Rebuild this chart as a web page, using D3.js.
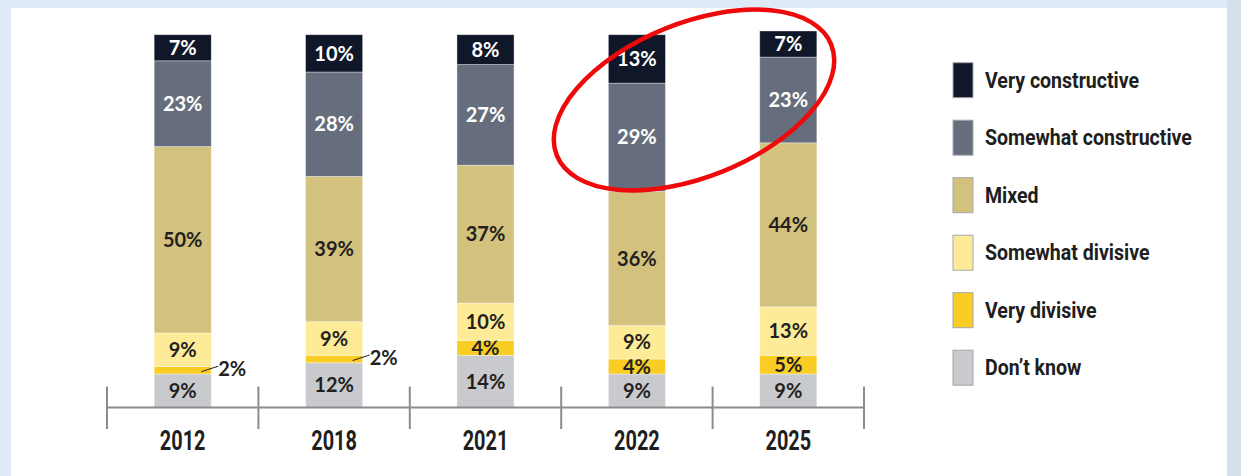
<!DOCTYPE html>
<html>
<head>
<meta charset="utf-8">
<script src="https://cdn.jsdelivr.net/npm/d3@7/dist/d3.min.js"></script>
<style>
  body { margin: 0; background: #e0eaf6; }
  .yr text { font-family: Roboto, "Liberation Sans", sans-serif; font-weight: bold; font-size: 28px; fill: #1e1e1e; }
  .lbl { font-family: Lato, "Open Sans", sans-serif; font-weight: bold; font-size: 20px; }
  .leg { font-family: Roboto, "Liberation Sans", sans-serif; font-weight: bold; font-size: 22.5px; fill: #1e1e1e; }
</style>
</head>
<body>
<div id="chart"></div>
<script>
var years = ["2012", "2018", "2021", "2022", "2025"];
var categories = ["Very constructive", "Somewhat constructive", "Mixed", "Somewhat divisive", "Very divisive", "Don\u2019t know"];
var colors = ["#0f1729", "#666e7d", "#d3c17e", "#fdeb98", "#f9cd24", "#c8cacd"];

// one array per category, in order of years
var veryConstructive     = [7, 10, 8, 13, 7];
var somewhatConstructive = [23, 28, 27, 29, 23];
var mixed                = [50, 39, 37, 36, 44];
var somewhatDivisive     = [9, 9, 10, 9, 13];
var veryDivisive         = [2, 2, 4, 4, 5];
var dontKnow             = [9, 12, 14, 9, 9];

var seriesValues = [veryConstructive, somewhatConstructive, mixed, somewhatDivisive, veryDivisive, dontKnow];

var W = 1241, H = 476;
var svg = d3.select("#chart").append("svg")
    .attr("width", W)
    .attr("height", H);

svg.append("rect").attr("width", W).attr("height", H).attr("fill", "#e0eaf6");
svg.append("rect").attr("x", 1227).attr("width", 14).attr("height", H).attr("fill", "#d6e0ec");
svg.append("rect").attr("x", 11).attr("y", 8).attr("width", 1216).attr("height", H).attr("fill", "#fff");

var axisY = 407.5;
var x = d3.scaleBand()
    .domain(years)
    .range([107, 864])
    .paddingInner(0.623)
    .paddingOuter(0.3115);

var y = d3.scaleLinear()
    .domain([0, 100])
    .range([axisY, 34.7]);

// build table: rows per year, stacked from bottom (Don't know) upward
var table = years.map(function(yr, i) {
  var row = {year: yr};
  categories.forEach(function(c, j) { row[c] = seriesValues[j][i]; });
  return row;
});

var stackOrder = categories.slice().reverse();
var stacked = d3.stack().keys(stackOrder)(table);

var g = svg.append("g");

var layer = g.selectAll(".layer")
  .data(stacked)
  .enter().append("g")
    .attr("class", "layer")
    .attr("fill", function(d) { return colors[categories.indexOf(d.key)]; });

layer.selectAll("rect")
  .data(function(d) { return d; })
  .enter().append("rect")
    .attr("x", function(d) { return x(d.data.year); })
    .attr("y", function(d) { return y(d[1]); })
    .attr("width", x.bandwidth())
    .attr("height", function(d) { return y(d[0]) - y(d[1]); })
    .attr("stroke", "rgba(255,255,255,0.45)")
    .attr("stroke-width", 0.8);

// labels
layer.each(function(s) {
  var ci = categories.indexOf(s.key);
  var dark = ci < 2;
  d3.select(this).selectAll("g.seg")
    .data(s)
    .enter().append("g")
      .attr("class", "seg")
      .each(function(d) {
        var v = d[1] - d[0];
        var cy = (y(d[0]) + y(d[1])) / 2;
        var sel = d3.select(this);
        if (v < 3) {
          var bx = x(d.data.year) + x.bandwidth();
          sel.append("line")
            .attr("x1", bx - 10).attr("y1", cy + 1.5)
            .attr("x2", bx + 7).attr("y2", cy - 4)
            .attr("stroke", "#231f20").attr("stroke-width", 1);
          sel.append("text")
            .attr("class", "lbl")
            .attr("x", bx + 7)
            .attr("y", cy + 6)
            .attr("fill", "#231f20")
            .text(v + "%");
        } else {
          sel.append("text")
            .attr("class", "lbl")
            .attr("x", x(d.data.year) + x.bandwidth() / 2)
            .attr("y", cy)
            .attr("dy", "0.36em")
            .attr("text-anchor", "middle")
            .attr("fill", dark ? "#fff" : "#231f20")
            .text(v + "%");
        }
      });
});

// axis with ticks between bars
var gap = x.step() - x.bandwidth();
var bounds = years.map(function(d) { return x(d) - gap / 2; });
bounds.push(x(years[years.length - 1]) + x.bandwidth() + gap / 2);

g.append("line")
  .attr("x1", bounds[0]).attr("x2", bounds[bounds.length - 1])
  .attr("y1", axisY).attr("y2", axisY)
  .attr("stroke", "#8c8c8c").attr("stroke-width", 2.2);

g.selectAll(".tk")
  .data(bounds)
  .enter().append("line")
    .attr("class", "tk")
    .attr("x1", function(d) { return d; }).attr("x2", function(d) { return d; })
    .attr("y1", axisY - 21).attr("y2", axisY + 21.5)
    .attr("stroke", "#8c8c8c").attr("stroke-width", 2);

var xAxis = g.append("g")
    .attr("class", "yr")
    .attr("transform", "translate(0," + axisY + ")")
    .call(d3.axisBottom(x).tickSize(0).tickPadding(22.6));
xAxis.select(".domain").remove();
xAxis.attr("font-size", null).attr("font-family", null);

// condensed look: squeeze the year labels horizontally
var yrText = xAxis.selectAll("text");
var yrW = yrText.node().getComputedTextLength();
var yrScale = 45.7 / yrW;
yrText.attr("transform", "scale(" + yrScale + ",1)");

// legend
var legend = svg.append("g")
    .attr("transform", "translate(953,62.7)");

var item = legend.selectAll(".item")
  .data(categories)
  .enter().append("g")
    .attr("class", "item")
    .attr("transform", function(d, i) { return "translate(0," + (i * 57.5) + ")"; });

item.append("rect")
  .attr("width", 20)
  .attr("height", 35)
  .attr("fill", function(d, i) { return colors[i]; })
  .attr("stroke", "#a5a7ab")
  .attr("stroke-width", 1);

var legText = item.append("text")
  .attr("class", "leg")
  .text(function(d) { return d; });

var longest = legText.filter(function(d) { return d === "Somewhat constructive"; }).node().getComputedTextLength();
var legScale = 207 / longest;
legText.attr("transform", "translate(32,25) scale(" + legScale + ",1)");

// red highlight ring round 2022 / 2025 constructive segments
svg.append("ellipse")
  .attr("cx", 694)
  .attr("cy", 100)
  .attr("rx", 148)
  .attr("ry", 77)
  .attr("transform", "rotate(-22,694,100)")
  .attr("fill", "none")
  .attr("stroke", "#ee0a0a")
  .attr("stroke-width", 4.5);
</script>
</body>
</html>
